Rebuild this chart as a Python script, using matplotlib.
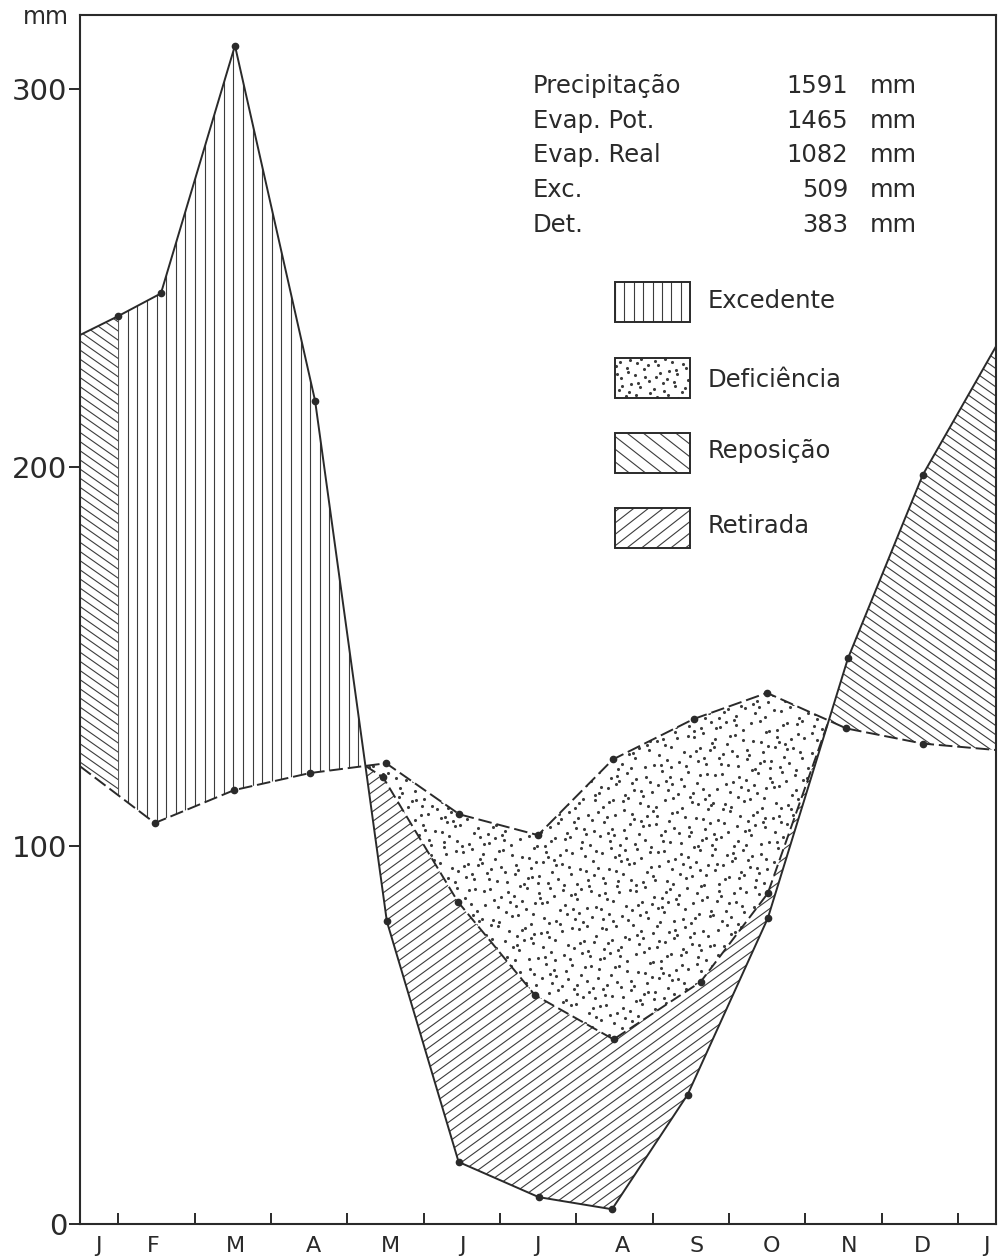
import numpy as np
import matplotlib
matplotlib.use('Agg')
import matplotlib.pyplot as plt
from matplotlib.collections import LineCollection
from matplotlib.patches import Rectangle

# ---------------- data (months: 0 = mid-Jan ... 12 = mid-Jan next year) -------------
month_labels = ['J', 'F', 'M', 'A', 'M', 'J', 'J', 'A', 'S', 'O', 'N', 'D', 'J']
month_label_pos = [0.24, 0.96, 2.03, 3.06, 4.07, 5.01, 5.99, 7.10, 8.08, 9.06, 10.08, 11.03, 11.87]
month_bounds = [0.5 + i for i in range(12)]

# Precipitation (solid line)
precip_x = [0.0, 0.5, 1.06, 2.03, 3.08, 4.02, 4.96, 6.01, 6.97, 7.96, 9.01, 10.06, 11.04, 12.0]
precip_y = [235, 240, 246, 311.5, 217.6, 80.0, 16.4, 7.1, 3.9, 34.2, 80.8, 149.5, 198.0, 232.0]
precip_marked = [False] + [True] * 12 + [False]

# Potential evapotranspiration (dashed line)
pet_x = [0.0, 0.98, 2.02, 3.01, 4.01, 4.97, 6.0, 6.98, 8.04, 9.0, 10.04, 11.04, 12.0]
pet_y = [121, 106, 114.7, 119.2, 121.8, 108.3, 102.8, 122.8, 133.5, 140.4, 131.0, 127.0, 125.3]
pet_marked = [False] + [True] * 11 + [False]

# Real evapotranspiration in the dry season (dashed line)
er_x = [3.97, 4.95, 5.96, 6.99, 8.13, 9.01]
er_y = [118.1, 85.2, 60.5, 48.8, 64.0, 87.4]

recharge_end = 0.5   # soil recharge completed (January)

y_ticks = [0, 100, 200, 300]
stats_labels = ['Precipitação', 'Evap. Pot.', 'Evap. Real', 'Exc.', 'Det.']
stats_values = ['1591', '1465', '1082', '509', '383']
legend_labels = ['Excedente', 'Deficiência', 'Reposição', 'Retirada']

# ---------------- figure ----------------
INK = '#2a2a2a'
HATCH = '#3c3c3c'
plt.rcParams['font.family'] = ['DejaVu Sans']
W, H = 1002, 1260
fig = plt.figure(figsize=(W / 100, H / 100), dpi=100)
fig.patch.set_facecolor('white')
ax = fig.add_axes([80 / W, 1 - 1224 / H, 916 / W, 1209 / H])
ax.set_xlim(0, 12)
ax.set_ylim(0, 319.6)
for sp in ax.spines.values():
    sp.set_linewidth(1.5)
    sp.set_color(INK)

ax.set_yticks(y_ticks)
ax.tick_params(axis='y', direction='out', length=8, width=1.4, colors=INK,
               labelsize=21, pad=1)
ax.set_xticks(month_bounds)
ax.set_xticklabels([])
ax.set_xticks(month_label_pos, month_labels, minor=True)
ax.tick_params(axis='x', which='major', direction='in', length=8, width=1.4, colors=INK)
ax.tick_params(axis='x', which='minor', length=0, labelsize=16, pad=9, labelcolor=INK)


def p_at(x):
    return np.interp(x, precip_x, precip_y)


def pet_at(x):
    return np.interp(x, pet_x, pet_y)


# crossings of precipitation and PET
xs = np.linspace(0, 12, 6001)
d = p_at(xs) - pet_at(xs)
idx = np.where(np.diff(np.sign(d)) != 0)[0]
cross = [xs[i] + d[i] / (d[i] - d[i + 1]) * (xs[i + 1] - xs[i]) for i in idx]
x_dry0, x_dry1 = cross[0], cross[-1]

er_line_x = [x_dry0] + er_x + [x_dry1]
er_line_y = [float(pet_at(x_dry0))] + er_y + [float(pet_at(x_dry1))]


def er_at(x):
    return np.interp(x, er_line_x, er_line_y)


def band(xv, lower, upper):
    coll = ax.fill_between(xv, lower, upper, facecolor='none', edgecolor='none', linewidth=0)
    return coll.get_paths()[0]


def hatch(path, transform, bbox, angle, spacing, anchor=None, lw=0.8):
    x0, y0, x1, y1 = bbox
    cx, cy = (x0 + x1) / 2, (y0 + y1) / 2
    R = np.hypot(x1 - x0, y1 - y0) / 2 + 2 * spacing
    th = np.deg2rad(angle)
    dv = np.array([np.cos(th), np.sin(th)])
    nv = np.array([-np.sin(th), np.cos(th)])
    c0 = 0.0
    if anchor is not None:
        c0 = np.dot(np.array(anchor) - np.array([cx, cy]), nv)
    ks = np.arange(np.floor((-R - c0) / spacing), np.ceil((R - c0) / spacing) + 1)
    inv = ax.transData.inverted()
    segs = []
    for k in ks:
        c = c0 + k * spacing
        p0 = np.array([cx, cy]) + c * nv - R * dv
        p1 = np.array([cx, cy]) + c * nv + R * dv
        segs.append(inv.transform(np.vstack([p0, p1])))
    lc = LineCollection(segs, colors=HATCH, linewidths=lw, zorder=2)
    ax.add_collection(lc, autolim=False)
    lc.set_clip_path(path, transform)
    return lc


def halton(n, base):
    out = np.zeros(n)
    for i in range(n):
        f, r, k = 1.0, 0.0, i + 1
        while k > 0:
            f /= base
            r += f * (k % base)
            k //= base
        out[i] = r
    return out


def stipple(path, transform, bbox, spacing, size, skip=0):
    x0, y0, x1, y1 = bbox
    n = int((x1 - x0) * (y1 - y0) / spacing ** 2)
    u = halton(n + skip, 2)[skip:]
    v = halton(n + skip, 3)[skip:]
    pts = np.column_stack([x0 + u * (x1 - x0), y0 + v * (y1 - y0)])
    dat = ax.transData.inverted().transform(pts)
    sc = ax.scatter(dat[:, 0], dat[:, 1], s=size, c=HATCH, linewidths=0, zorder=2)
    sc.set_clip_path(path, transform)


def disp_bbox(path):
    v = ax.transData.transform(path.vertices)
    return v[:, 0].min(), v[:, 1].min(), v[:, 0].max(), v[:, 1].max()


# regions
xa = np.linspace(0, recharge_end, 200)
xb = np.linspace(recharge_end, x_dry0, 800)
xc = np.linspace(x_dry0, x_dry1, 1500)
xd = np.linspace(x_dry1, 12, 600)

path_rep1 = band(xa, pet_at(xa), p_at(xa))
path_exc = band(xb, pet_at(xb), p_at(xb))
path_def = band(xc, er_at(xc), pet_at(xc))
path_ret = band(xc, p_at(xc), er_at(xc))
path_rep2 = band(xd, pet_at(xd), p_at(xd))

anchor_v = ax.transData.transform((recharge_end, 0))
hatch(path_exc, ax.transData, disp_bbox(path_exc), 90, 9.6, anchor=anchor_v)
hatch(path_rep1, ax.transData, disp_bbox(path_rep1), -35, 7.5)
hatch(path_rep2, ax.transData, disp_bbox(path_rep2), -35, 7.5)
hatch(path_ret, ax.transData, disp_bbox(path_ret), 36, 8.0)
stipple(path_def, ax.transData, disp_bbox(path_def), 9.5, 5, skip=20)

# lines
lw = 1.4
ax.plot(precip_x, precip_y, color=INK, lw=lw, zorder=5)
ax.plot(np.array(precip_x)[precip_marked], np.array(precip_y)[precip_marked], 'o',
        color=INK, ms=4.5, zorder=6)
ax.plot(pet_x, pet_y, color=INK, lw=lw, dashes=(7, 2.5), zorder=5)
ax.plot(np.array(pet_x)[pet_marked], np.array(pet_y)[pet_marked], 'o',
        color=INK, ms=4.5, zorder=6)
ax.plot(er_line_x, er_line_y, color=INK, lw=lw, dashes=(6, 2.5), zorder=5)
ax.plot(er_x, er_y, 'o', color=INK, ms=4.5, zorder=6)

# ---------------- texts ----------------
def fx(px):
    return px / W


def fy(py):
    return 1 - py / H


fig.text(fx(46), fy(17), 'mm', ha='center', va='center', fontsize=17, color=INK)

stat_base = [93, 128, 162, 197, 232]
for lab, val, yb in zip(stats_labels, stats_values, stat_base):
    fig.text(fx(533), fy(yb), lab, ha='left', va='baseline', fontsize=17.5, color=INK)
    fig.text(fx(848), fy(yb), val, ha='right', va='baseline', fontsize=17.5, color=INK)
    fig.text(fx(870), fy(yb), 'mm', ha='left', va='baseline', fontsize=17.5, color=INK)

# legend
box_x0, box_x1 = 615, 690
box_tops = [282, 358, 433, 508]
box_h = 40
leg_base = [308, 387, 458, 533]
styles = ['exc', 'def', 'rep', 'ret']
for lab, top, yb, st in zip(legend_labels, box_tops, leg_base, styles):
    ax0 = (box_x0 - 80) / 916
    ay0 = (1224 - (top + box_h)) / 1209
    aw, ah = (box_x1 - box_x0) / 916, box_h / 1209
    rect = Rectangle((ax0, ay0), aw, ah, transform=ax.transAxes, fill=False,
                     ec=INK, lw=1.4, zorder=7)
    ax.add_patch(rect)
    c = ax.transAxes.transform([(ax0, ay0), (ax0 + aw, ay0 + ah)])
    bb = (c[0, 0], c[0, 1], c[1, 0], c[1, 1])
    rpath = rect.get_path()
    rtr = rect.get_transform()
    if st == 'exc':
        hatch(rpath, rtr, bb, 90, 9.4, anchor=(c[0, 0], c[0, 1]))
    elif st == 'def':
        stipple(rpath, rtr, bb, 8.0, 5, skip=7)
    elif st == 'rep':
        hatch(rpath, rtr, bb, -38, 10)
    else:
        hatch(rpath, rtr, bb, 38, 9)
    fig.text(fx(708), fy(yb), lab, ha='left', va='baseline', fontsize=17.5, color=INK)

fig.savefig('out.png', dpi=100, facecolor='white')
